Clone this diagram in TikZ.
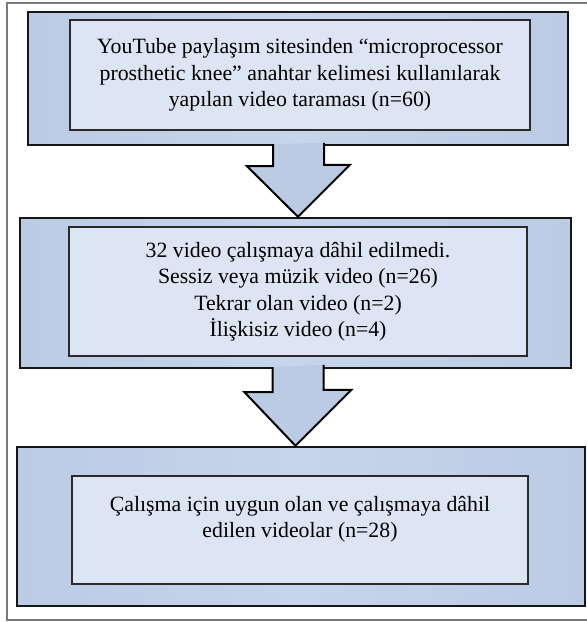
\documentclass[tikz,border=0pt]{standalone}
\usepackage{fontspec}
\setmainfont{Liberation Serif}
\usepackage{xcolor}
\usepackage{tikz}
\usetikzlibrary{calc}
\definecolor{outerblue}{HTML}{BBCBE4}
\definecolor{outerlight}{HTML}{C7D5EB}
\definecolor{innerblue}{HTML}{DCE5F3}
\definecolor{framegray}{HTML}{7A7A7A}

\begin{document}
\begin{tikzpicture}[x=1pt,y=-1pt]
    \tikzstyle{outer_box}=[rectangle,draw={rgb:black,1;white,0.1},line width=2.4pt,left color=outerblue,right color=outerblue,middle color=outerlight,inner sep=0pt]
    \tikzstyle{inner_box}=[rectangle,draw={rgb:black,1;white,0.2},line width=1.5pt,fill=innerblue,inner sep=0pt,align=center,font=\fontsize{21.8}{26.5}\selectfont]
    \tikzstyle{block_arrow}=[draw=black,line width=2pt,fill=outerblue,line join=miter]
    \useasboundingbox (0,0) rectangle (587,622);
    \draw[framegray,line width=1.6pt] (590,3) -- (7,3) -- (7,620) -- (590,620);

    \node[outer_box,minimum width=540pt,minimum height=133pt] (search_out) at (298,78.5) {};
    \node[inner_box,minimum width=460pt,minimum height=110pt] (search) at (300,75)
        {YouTube paylaşım sitesinden “microprocessor\\prosthetic knee” anahtar kelimesi kullanılarak\\yapılan video taraması (n=60)};

    \node[outer_box,minimum width=551pt,minimum height=150pt] (excluded_out) at (295.5,293) {};
    \node[inner_box,minimum width=458pt,minimum height=129pt] (excluded) at (298,291.5)
        {32 video çalışmaya dâhil edilmedi.\\Sessiz veya müzik video (n=26)\\Tekrar olan video (n=2)\\İlişkisiz video (n=4)};

    \node[outer_box,minimum width=568pt,minimum height=159pt] (included_out) at (301,526.5) {};
    \node[inner_box,minimum width=456pt,minimum height=108pt] (included) at (300,530)
        {Çalışma için uygun olan ve çalışmaya dâhil\\edilen videolar (n=28)\\\mbox{}};

    \draw[block_arrow] ([xshift=-25pt,yshift=2pt]search_out.south) -- ++(0,22) -- ++(-26,0)
        -- (search_out.south |- excluded_out.north) -- ++(52,-52) -- ++(-26,0) -- ++(0,-22);
    \draw[block_arrow] ([xshift=-23pt,yshift=2pt]excluded_out.south) -- ++(0,25) -- ++(-28,0)
        -- (excluded_out.south |- included_out.north) -- ++(56,-56) -- ++(-28,0) -- ++(0,-25);
\end{tikzpicture}
\end{document}
